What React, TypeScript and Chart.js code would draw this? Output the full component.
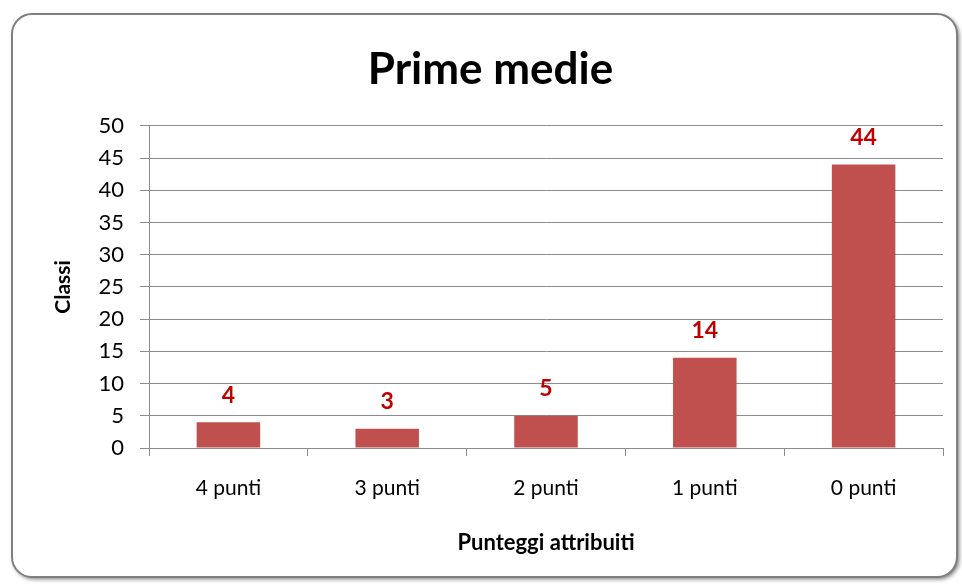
import React, { useEffect, useRef } from "react";
import { Chart, registerables } from "chart.js";

Chart.register(...registerables);

const TITLE = "Prime medie";
const Y_TITLE = "Classi";
const X_TITLE = "Punteggi attribuiti";
const categories = ["4 punti", "3 punti", "2 punti", "1 punti", "0 punti"];
const values = [4, 3, 5, 14, 44];
const Y_MIN = 0;
const Y_MAX = 50;
const Y_STEP = 5;

const FONT = "Lato, 'Open Sans', sans-serif";
const BAR_COLOR = "#C0504D";
const LABEL_COLOR = "#C00000";
const GRID_COLOR = "#8C8C8C";

const framePlugin = {
  id: "frame",
  beforeDraw(chart: any) {
    const ctx = chart.ctx;
    ctx.save();
    ctx.fillStyle = "#ffffff";
    ctx.fillRect(0, 0, chart.width, chart.height);
    ctx.shadowColor = "rgba(0,0,0,0.55)";
    ctx.shadowBlur = 4;
    ctx.shadowOffsetX = 2;
    ctx.shadowOffsetY = 2;
    ctx.beginPath();
    ctx.roundRect(12, 14, 945, 563, 20);
    ctx.fillStyle = "#ffffff";
    ctx.fill();
    ctx.shadowColor = "transparent";
    ctx.lineWidth = 2;
    ctx.strokeStyle = "#7F7F7F";
    ctx.stroke();
    ctx.restore();
  },
};

const labelPlugin = {
  id: "valueLabels",
  afterDatasetsDraw(chart: any) {
    const ctx = chart.ctx;
    const meta = chart.getDatasetMeta(0);
    const data = chart.data.datasets[0].data;
    ctx.save();
    ctx.fillStyle = LABEL_COLOR;
    ctx.font = `bold 23px ${FONT}`;
    ctx.textAlign = "center";
    ctx.textBaseline = "middle";
    meta.data.forEach((bar: any, i: number) => {
      ctx.fillText(String(data[i]), bar.x, bar.y - 27);
    });
    ctx.restore();
  },
};

export default function App() {
  const ref = useRef<HTMLCanvasElement | null>(null);

  useEffect(() => {
    if (!ref.current) return;
    const chart = new Chart(ref.current, {
      type: "bar",
      data: {
        labels: categories,
        datasets: [
          {
            data: values,
            backgroundColor: BAR_COLOR,
            borderWidth: 0,
            barPercentage: 0.4,
            categoryPercentage: 1,
          },
        ],
      },
      options: {
        animation: false,
        responsive: false,
        devicePixelRatio: 1,
        layout: { padding: { left: 38, right: 19, top: 0, bottom: 0 } },
        plugins: {
          legend: { display: false },
          tooltip: { enabled: false },
          title: {
            display: true,
            text: TITLE,
            color: "#000000",
            font: { family: FONT, size: 44, weight: "bold", lineHeight: 1.2 },
            padding: { top: 43, bottom: 30 },
          },
        },
        scales: {
          x: {
            afterFit(scale: any) {
              scale.height = 584 - 448;
            },
            grid: {
              display: true,
              drawOnChartArea: false,
              drawTicks: true,
              tickLength: 8,
              color: GRID_COLOR,
              offset: true,
            },
            border: { display: true, color: GRID_COLOR, width: 1 },
            ticks: {
              color: "#000000",
              font: { family: FONT, size: 21 },
              padding: 20,
              maxRotation: 0,
            },
            title: {
              display: true,
              text: X_TITLE,
              color: "#000000",
              font: { family: FONT, size: 22, weight: "bold", lineHeight: 1.2 },
              padding: { top: 0, bottom: 28 },
            },
          },
          y: {
            min: Y_MIN,
            max: Y_MAX,
            afterFit(scale: any) {
              scale.width = 111;
            },
            grid: {
              display: true,
              drawTicks: true,
              tickLength: 9,
              color: GRID_COLOR,
            },
            border: { display: true, color: GRID_COLOR, width: 1 },
            ticks: {
              stepSize: Y_STEP,
              color: "#000000",
              font: { family: FONT, size: 22 },
              padding: 16,
            },
            title: {
              display: true,
              text: Y_TITLE,
              color: "#000000",
              font: { family: FONT, size: 21, weight: "bold", lineHeight: 1.2 },
              padding: { top: 13, bottom: 0 },
            },
          },
        },
      },
      plugins: [framePlugin, labelPlugin],
    });
    return () => chart.destroy();
  }, []);

  return (
    <div style={{ position: "fixed", left: 0, top: 0, width: 962, height: 584 }}>
      <canvas ref={ref} width={962} height={584} style={{ display: "block" }} />
    </div>
  );
}
